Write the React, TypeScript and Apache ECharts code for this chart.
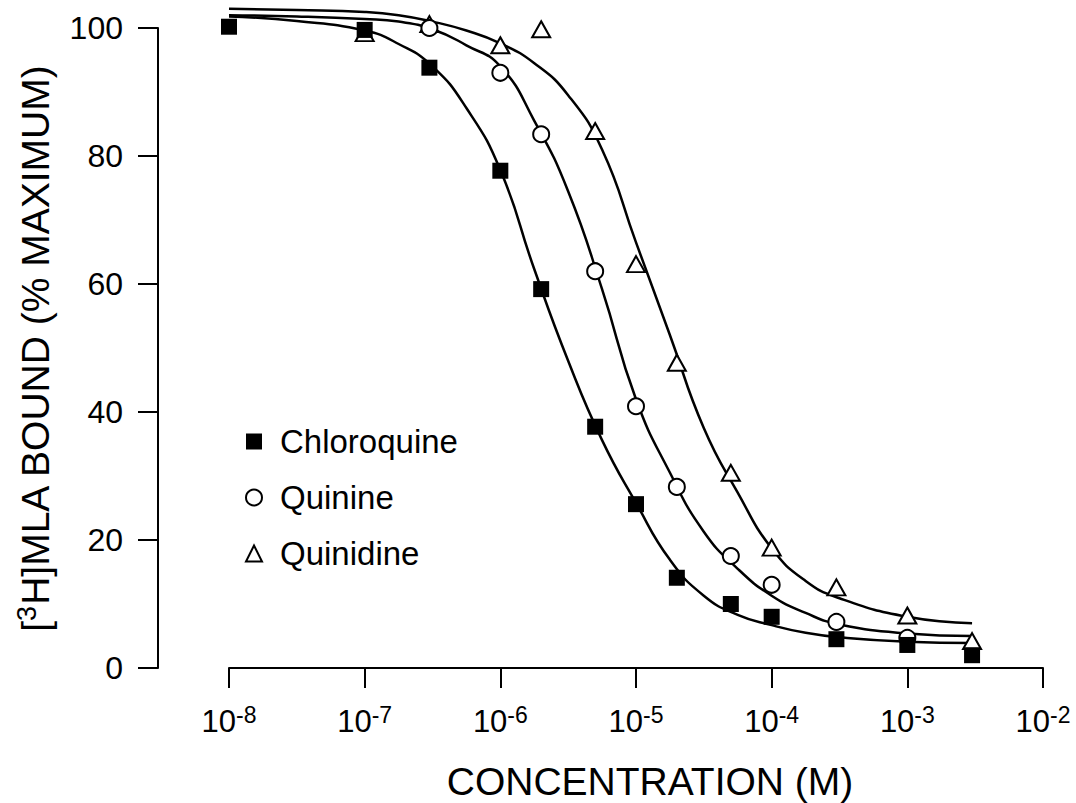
import React, { useEffect, useRef } from "react";
import * as echarts from "echarts";

const FONT = '"Liberation Sans", Arial, Helvetica, sans-serif';

// X tick range (concentration, M)
const X_MIN = 1e-8;
const X_MAX = 1e-2;
const Y_TICKS = [0, 20, 40, 60, 80, 100];

// Measured points
const CHLORO_X = [1e-8, 1e-7, 3e-7, 1e-6, 2e-6, 5e-6, 1e-5, 2e-5, 5e-5, 1e-4, 3e-4, 1e-3, 3e-3];
const CHLORO_Y = [100.2, 99.7, 93.8, 77.7, 59.2, 37.7, 25.6, 14.1, 10.0, 8.0, 4.5, 3.6, 2.0];

const QUININE_X = [3e-7, 1e-6, 2e-6, 5e-6, 1e-5, 2e-5, 5e-5, 1e-4, 3e-4, 1e-3];
const QUININE_Y = [100.0, 93.0, 83.4, 62.0, 40.9, 28.3, 17.5, 13.0, 7.2, 4.7];

const QUINIDINE_X = [1e-7, 3e-7, 1e-6, 2e-6, 5e-6, 1e-5, 2e-5, 5e-5, 1e-4, 3e-4, 1e-3, 3e-3];
const QUINIDINE_Y = [99.2, 100.6, 97.3, 99.8, 83.9, 63.1, 47.7, 30.5, 18.8, 12.6, 8.2, 4.2];

// Fitted curves at quarter-decade steps
const FIT_X = [1e-8, 3.16e-8, 1e-7, 1.78e-7, 3.16e-7, 5.62e-7, 1e-6, 1.78e-6, 3.16e-6, 5.62e-6, 1e-5, 1.78e-5, 3.16e-5, 5.62e-5, 1e-4, 1.78e-4, 3.16e-4, 1e-3, 3e-3];
const CHLORO_FIT_Y = [101.8, 101.1, 99.6, 97.5, 94.0, 87.5, 77.8, 62.3, 48.0, 35.6, 25.8, 16.9, 11.3, 8.3, 6.7, 5.5, 4.8, 4.1, 3.9];
const QUININE_FIT_Y = [102.0, 101.8, 101.4, 101.0, 99.8, 97.3, 94.0, 85.5, 74.5, 59.2, 42.0, 30.5, 21.3, 15.5, 11.3, 8.6, 6.8, 5.4, 5.0];
const QUINIDINE_FIT_Y = [103.0, 102.8, 102.5, 102.0, 101.0, 99.6, 97.6, 94.5, 89.5, 81.0, 66.5, 52.0, 37.5, 27.4, 18.7, 13.6, 10.9, 8.0, 7.0];

const LEGEND_NAMES = ["Chloroquine", "Quinine", "Quinidine"];
const X_TITLE = "CONCENTRATION (M)";
const Y_TITLE_PRE = "[";
const Y_TITLE_SUP = "3";
const Y_TITLE_POST = "H]MLA BOUND (% MAXIMUM)";

const pairs = (xs: number[], ys: number[]) => xs.map((x, i) => [x, ys[i]]);

export default function App() {
  const ref = useRef<HTMLDivElement>(null);
  useEffect(() => {
    if (!ref.current) return;
    const chart = echarts.init(ref.current, undefined, { renderer: "svg" });
    const fitLine = (name: string, xs: number[], ys: number[]) => ({
      name,
      type: "line",
      data: pairs(xs, ys),
      showSymbol: false,
      symbol: "none",
      smooth: 0.5,
      clip: false,
      silent: true,
      z: 2,
      lineStyle: { color: "#000", width: 2.5, opacity: 1 },
    });
    const hollow = { color: "#ffffff", opacity: 1, borderColor: "#000", borderWidth: 2 };
    chart.setOption({
      animation: false,
      backgroundColor: "#fff",
      textStyle: { fontFamily: FONT },
      grid: { left: 229, right: 33, top: 28, bottom: 135, containLabel: false },
      xAxis: {
        type: "log",
        logBase: 10,
        min: X_MIN,
        max: X_MAX,
        axisLine: { show: true, onZero: false, lineStyle: { color: "#000", width: 2 } },
        axisTick: { show: true, inside: false, length: 20, lineStyle: { color: "#000", width: 2 } },
        minorTick: { show: false },
        splitLine: { show: false },
        axisLabel: {
          margin: 35,
          color: "#000",
          formatter: (v: number) => `{b|10}{s|${Math.round(Math.log10(v))}}`,
          rich: {
            b: { fontSize: 31, lineHeight: 36, fontFamily: FONT, color: "#000" },
            s: { fontSize: 23, lineHeight: 16, verticalAlign: "top", fontFamily: FONT, color: "#000" },
          },
        },
      },
      yAxis: {
        type: "value",
        min: Y_TICKS[0],
        max: Y_TICKS[Y_TICKS.length - 1],
        interval: 20,
        offset: 71,
        axisLine: { show: true, onZero: false, lineStyle: { color: "#000", width: 2 } },
        axisTick: { show: true, inside: false, length: 20, lineStyle: { color: "#000", width: 2 } },
        splitLine: { show: false },
        axisLabel: { margin: 35, fontSize: 32, color: "#000", fontFamily: FONT },
      },
      legend: {
        orient: "vertical",
        left: 245,
        top: 425,
        padding: 0,
        itemWidth: 16,
        itemHeight: 16,
        itemGap: 23,
        selectedMode: false,
        data: LEGEND_NAMES,
        textStyle: { fontSize: 33, lineHeight: 33, color: "#000", fontFamily: FONT, padding: [0, 0, 0, 13] },
      },
      graphic: [
        {
          type: "text",
          x: 650,
          y: 781,
          style: {
            text: X_TITLE,
            font: `39px ${FONT}`,
            fill: "#000",
            align: "center",
            verticalAlign: "middle",
          },
        },
        {
          type: "text",
          x: 35,
          y: 348,
          rotation: Math.PI / 2,
          style: {
            text: `{n|${Y_TITLE_PRE}}{s|${Y_TITLE_SUP}}{n|${Y_TITLE_POST}}`,
            align: "center",
            verticalAlign: "middle",
            rich: {
              n: { fontSize: 39, lineHeight: 44, fontFamily: FONT, fill: "#000" },
              s: { fontSize: 27, lineHeight: 24, verticalAlign: "top", fontFamily: FONT, fill: "#000" },
            },
          },
        },
      ],
      series: [
        fitLine("Quinidine fit", FIT_X, QUINIDINE_FIT_Y),
        fitLine("Quinine fit", FIT_X, QUININE_FIT_Y),
        fitLine("Chloroquine fit", FIT_X, CHLORO_FIT_Y),
        {
          name: LEGEND_NAMES[2],
          type: "scatter",
          data: pairs(QUINIDINE_X, QUINIDINE_Y),
          symbol: "triangle",
          symbolSize: [18, 16],
          clip: false,
          z: 3,
          itemStyle: hollow,
        },
        {
          name: LEGEND_NAMES[1],
          type: "scatter",
          data: pairs(QUININE_X, QUININE_Y),
          symbol: "circle",
          symbolSize: 16,
          clip: false,
          z: 3,
          itemStyle: hollow,
        },
        {
          name: LEGEND_NAMES[0],
          type: "scatter",
          data: pairs(CHLORO_X, CHLORO_Y),
          symbol: "rect",
          symbolSize: 16,
          clip: false,
          z: 4,
          itemStyle: { color: "#000", opacity: 1 },
        },
      ],
    });
    return () => chart.dispose();
  }, []);
  return (
    <div
      ref={ref}
      style={{ position: "fixed", left: 0, top: 0, width: 1076, height: 803, background: "#fff" }}
    />
  );
}
